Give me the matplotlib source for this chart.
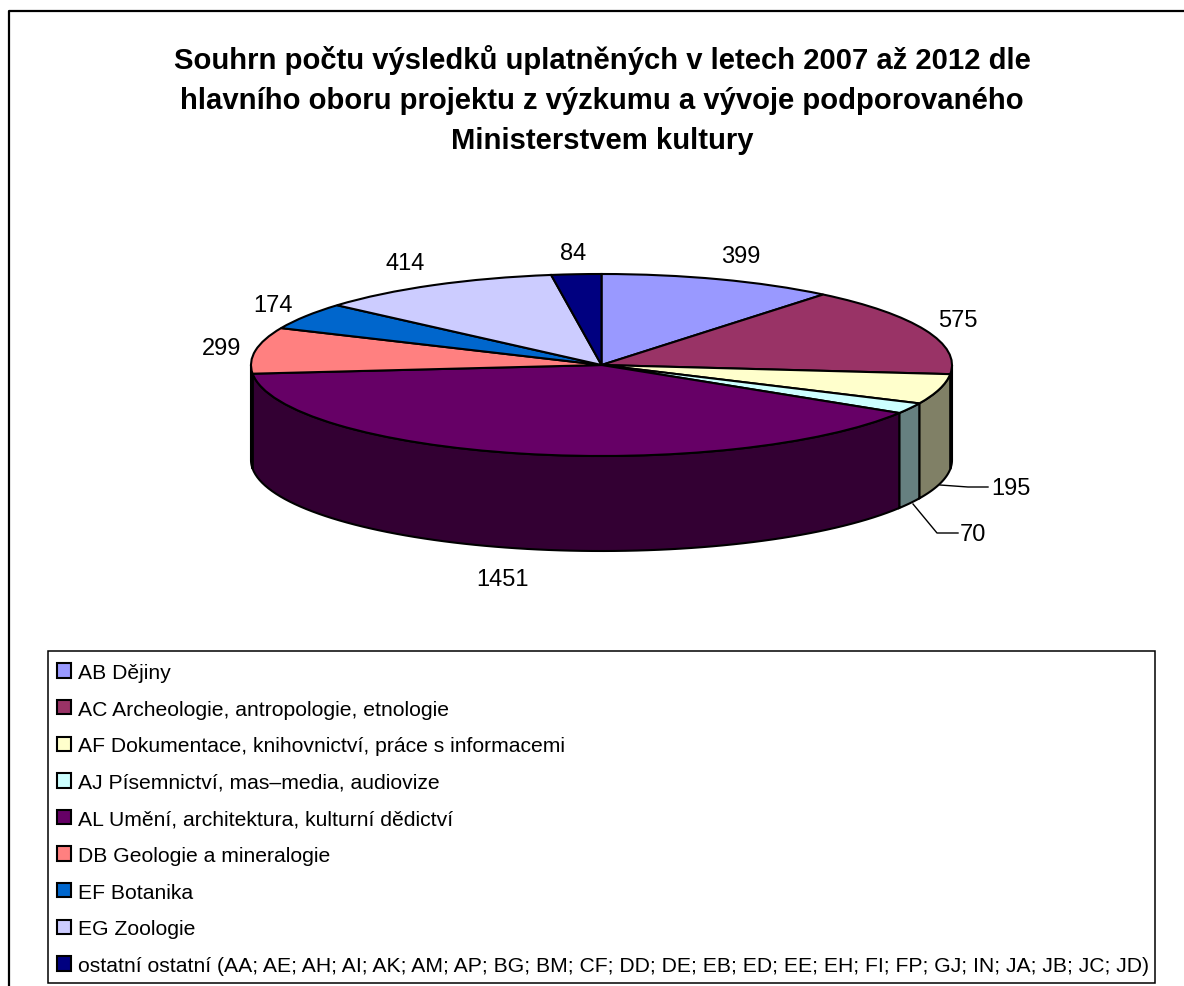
"""Souhrn vysledku - 3D pie chart drawn with a plain pie plus side walls"""
import numpy as np
import matplotlib
matplotlib.use('Agg')
import matplotlib.pyplot as plt
from matplotlib.patches import Rectangle

plt.rcParams['font.family'] = ['Liberation Sans', 'DejaVu Sans']

# Data
names = ['AB Dějiny',
         'AC Archeologie, antropologie, etnologie',
         'AF Dokumentace, knihovnictví, práce s informacemi',
         'AJ Písemnictví, mas\u2013media, audiovize',
         'AL Umění, architektura, kulturní dědictví',
         'DB Geologie a mineralogie',
         'EF Botanika',
         'EG Zoologie',
         'ostatní ostatní (AA; AE; AH; AI; AK; AM; AP; BG; BM; CF; DD; DE; EB; ED; EE; EH; FI; FP; GJ; IN; JA; JB; JC; JD)']
values = [399, 575, 195, 70, 1451, 299, 174, 414, 84]
title = ('Souhrn počtu výsledků uplatněných v letech 2007 až 2012 dle\n'
         'hlavního oboru projektu z výzkumu a vývoje podporovaného\n'
         'Ministerstvem kultury')

colors = ['#9999FF', '#993366', '#FFFFCC', '#CCFFFF', '#660066',
          '#FF8080', '#0066CC', '#CCCCFF', '#000080']
side_colors = ['#4D4D80', '#4D1A33', '#808066', '#668080', '#330033',
               '#804040', '#003366', '#666680', '#000040']

W, H = 1184, 987
cx, cy, rx, ry = 601.5, 366.0, 350.5, 91.0
depth = 95.0 / ry

cum = np.cumsum([0] + values) / sum(values) * 360

fig = plt.figure(figsize=(W / 100, H / 100), dpi=100, facecolor='white')

# pie axes: one unit is rx px across and ry px up, apex at 0,0
ax = fig.add_axes([0, 0, 1, 1], zorder=1)
wedges, _ = ax.pie(values, colors=colors, startangle=90, counterclock=False,
                   wedgeprops={'edgecolor': 'black', 'linewidth': 1.5})

# side walls of the front half
for i in range(len(values)):
    a0, a1 = max(cum[i], 90), min(cum[i + 1], 270)
    if a1 <= a0:
        continue
    t = np.radians(np.linspace(a0, a1, 80))
    x, y = np.sin(t), np.cos(t)
    ax.fill(np.r_[x, x[::-1]], np.r_[y, y[::-1] - depth], facecolor=side_colors[i],
            edgecolor='black', linewidth=1.5, zorder=0.5)

ax.set_aspect('auto')
ax.set_xlim(-cx / rx, (W - cx) / rx)
ax.set_ylim((cy - H) / ry, cy / ry)
ax.set_position([0, 0, 1, 1])
ax.axis('off')

# overlay in pixel coordinates for the texts
px = fig.add_axes([0, 0, 1, 1], zorder=2)
px.set_xlim(0, W)
px.set_ylim(H, 0)
px.axis('off')

# outer border: only the top and left sides show
px.plot([8.5, 8.5, W], [H, 11.5, 11.5], color='black', linewidth=1.6)

px.text(602, 100, title, ha='center', va='center', fontsize=21.1, fontweight='bold',
        color='black', linespacing=1.55)

# data labels
label_x = [741, 958, 1011, 973, 502, 222, 273, 405, 573]
label_y = [257, 321, 489, 535, 580, 349, 306, 264, 254]
for v, lx, ly in zip(values, label_x, label_y):
    px.text(lx, ly, str(v), ha='center', va='center', fontsize=17, color='black')

# leader lines
px.plot([940, 968, 988], [486, 488, 488], color='black', linewidth=1)
px.plot([913, 937, 958], [505, 534, 534], color='black', linewidth=1)

# legend
px.add_patch(Rectangle((48, 652), 1107, 332, facecolor='white', edgecolor='black',
                       linewidth=1.1))
leg = px.legend(wedges, names, loc='upper left', bbox_to_anchor=(48, 655),
                bbox_transform=px.transData, borderaxespad=0, fontsize=15.25,
                handlelength=0.67, handleheight=0.67, handletextpad=0.33,
                labelspacing=0.83, borderpad=0.43, frameon=False)

plt.savefig('out.png', dpi=100)
